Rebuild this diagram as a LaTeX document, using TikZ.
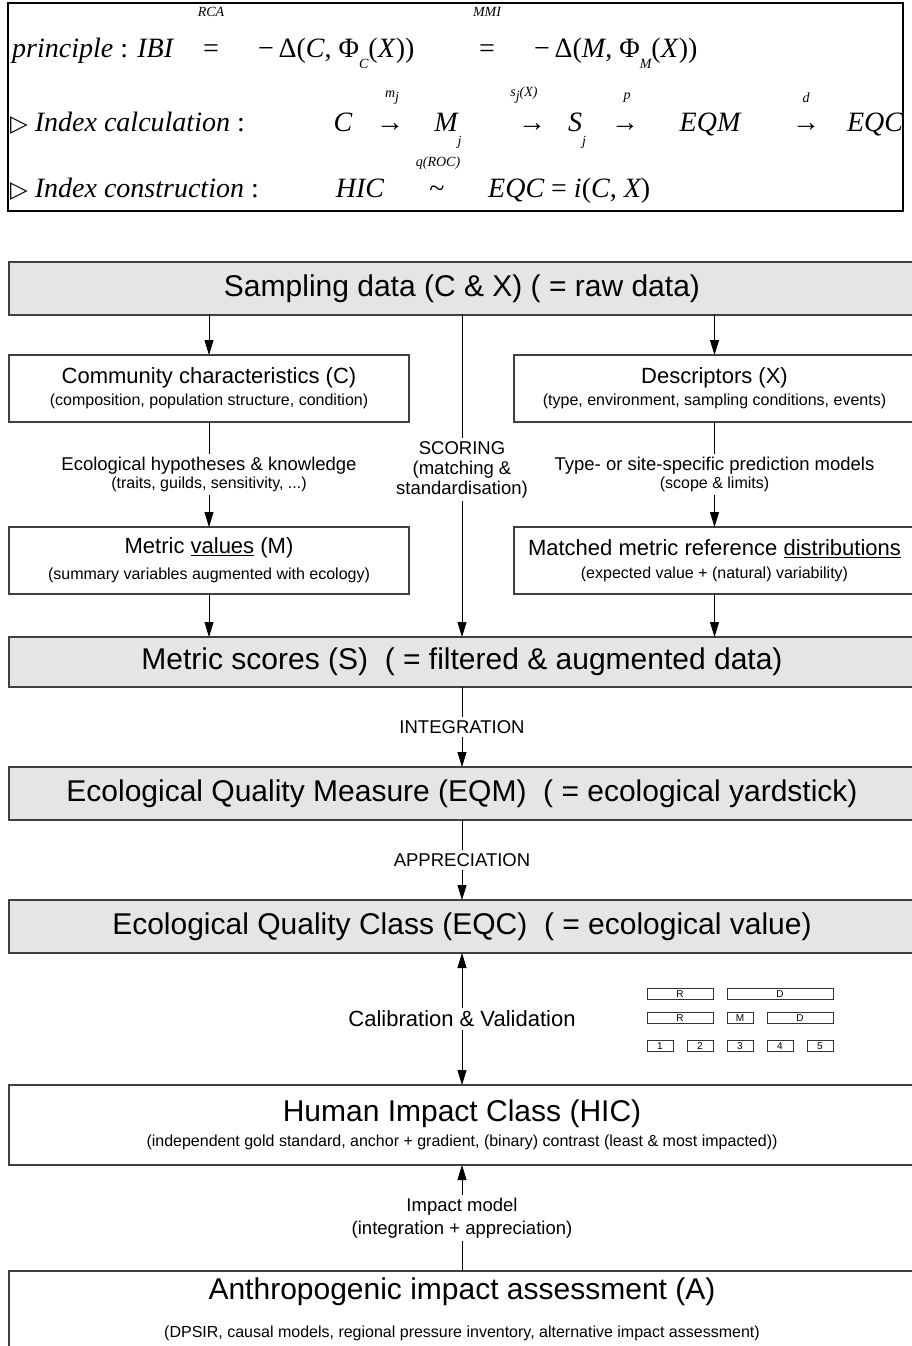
\documentclass[tikz,border=0pt]{standalone}
\usepackage{fontspec}
\setmainfont{Liberation Sans}
\newfontfamily\formfont{Liberation Serif}
\newfontfamily\symfont{DejaVu Sans}
\usepackage{tikz}
\usetikzlibrary{arrows.meta,positioning}

% font sizes (1pt = 1px of the sketch)
\newcommand{\bigtxt}{\fontsize{30}{36}\selectfont}
\newcommand{\midtxt}{\fontsize{22}{26}\selectfont}
\newcommand{\lbltxt}{\fontsize{18.5}{20}\selectfont}
\newcommand{\smalltxt}{\fontsize{16}{19}\selectfont}
\newcommand{\fml}{\formfont\fontsize{28}{32}\selectfont}
\newcommand{\fsup}{\formfont\itshape\fontsize{14}{15}\selectfont}
\newcommand{\fsub}{\formfont\itshape\fontsize{14}{15}\selectfont}
\newcommand{\tri}{{\symfont\fontsize{23}{23}\selectfont ▷}}

\begin{document}
\begin{tikzpicture}[x=1pt, y=-1pt,
  graybox/.style={draw=black!75, line width=1.3pt, fill=black!10, inner sep=0pt, outer sep=0pt, align=center},
  whitebox/.style={draw=black!75, line width=1.3pt, fill=white, inner sep=0pt, outer sep=0pt, align=center},
  lbl/.style={fill=white, inner sep=3pt, align=center},
  arr/.style={-{Triangle[length=15pt,width=9pt]}, line width=0.8pt},
  darr/.style={{Triangle[length=15pt,width=9pt]}-{Triangle[length=15pt,width=9pt]}, line width=0.8pt},
  sbox/.style={draw=black!80, line width=0.8pt, inner sep=0pt, minimum height=11pt, font=\fontsize{10}{10}\selectfont},
  ftxt/.style={inner sep=0pt, anchor=base, font=\fml},
  fsupx/.style={inner sep=0pt, font=\fsup}]
\useasboundingbox (0,0) rectangle (911,1346);

% formula frame
\node[draw, line width=1.4pt, minimum width=895pt, minimum height=208pt, inner sep=0pt, outer sep=0pt] (frame) at (455.5,107) {};
% principle
\node[ftxt, anchor=base west] (prin) at (12,58) {\itshape principle\upshape{} : \itshape IBI};
\node[ftxt] (eqa) at (211,58) {=};
\node[fsupx] (rca) at (211,12) {RCA};
\node[ftxt, anchor=base west] (delc) at (258,58) {−\,Δ(\textit{C}, Φ\raisebox{-11pt}{\fsub C}(\textit{X}))};
\node[ftxt] (eqb) at (487,58) {=};
\node[fsupx] (mmi) at (487,12) {MMI};
\node[ftxt, anchor=base west] (delm) at (534,58) {−\,Δ(\textit{M}, Φ\raisebox{-11pt}{\fsub M}(\textit{X}))};
% index calculation
\node[ftxt, anchor=base west] (calc) at (10,131) {\tri\ \itshape Index calculation\upshape{} :};
\node[ftxt] (cc) at (343,131) {\itshape C};
\node[ftxt] (ar1) at (390,131) {→};
\node[fsupx] (mj) at (392,98) {m\raisebox{-4pt}{j}};
\node[ftxt] (mm) at (448,131) {\itshape M\raisebox{-14pt}{\fsub j}};
\node[ftxt] (ar2) at (532,131) {→};
\node[fsupx] (sj) at (524,95) {s\raisebox{-4pt}{j}(X)};
\node[ftxt] (ss) at (577,131) {\itshape S\raisebox{-14pt}{\fsub j}};
\node[ftxt] (ar3) at (625,131) {→};
\node[fsupx] (pp) at (627,98) {p};
\node[ftxt] (eqm1) at (710,131) {\itshape EQM};
\node[ftxt] (ar4) at (806,131) {→};
\node[fsupx] (dd) at (806,98) {d};
\node[ftxt] (eqc1) at (875,131) {\itshape EQC};
% index construction
\node[ftxt, anchor=base west] (cons) at (10,197) {\tri\ \itshape Index construction\upshape{} :};
\node[ftxt] (hic1) at (360,197) {\itshape HIC};
\node[ftxt] (tld) at (437,197) {\textasciitilde};
\node[fsupx] (qroc) at (438,163) {q(ROC)};
\node[ftxt, anchor=base west] (eqci) at (488,197) {\itshape EQC\upshape{} = \itshape i\upshape(\itshape C\upshape, \itshape X\upshape)};

% boxes
\node[graybox, minimum width=906pt, minimum height=53pt] (samp) at (462,288.5) {\bigtxt Sampling data (C \& X) ( = raw data)};
\node[whitebox, minimum width=400pt, minimum height=67pt] (comm) at (209,388.5)
  {\midtxt Community characteristics (C)\\[5pt]\smalltxt (composition, population structure, condition)};
\node[whitebox, minimum width=401pt, minimum height=67pt] (desc) at (714.5,388.5)
  {\midtxt Descriptors (X)\\[5pt]\smalltxt (type, environment, sampling conditions, events)};
\node[whitebox, minimum width=400pt, minimum height=67pt] (mval) at (209,560.5)
  {\midtxt Metric \underline{values} (M)\\[9pt]\smalltxt (summary variables augmented with ecology)};
\node[whitebox, minimum width=401pt, minimum height=67pt] (match) at (714.5,560.5)
  {\midtxt Matched metric reference \underline{distributions}\\[8pt]\smalltxt (expected value + (natural) variability)};
\node[graybox, minimum width=906pt, minimum height=50pt] (scores) at (462,662) {\bigtxt Metric scores (S)\ \ ( = filtered \& augmented data)};
\node[graybox, minimum width=906pt, minimum height=53pt] (eqm) at (462,793.5) {\bigtxt Ecological Quality Measure (EQM)\ \ ( = ecological yardstick)};
\node[graybox, minimum width=906pt, minimum height=53pt] (eqc) at (462,926.5) {\bigtxt Ecological Quality Class (EQC)\ \ ( = ecological value)};
\node[whitebox, minimum width=906pt, minimum height=80pt] (hic) at (462,1125)
  {\bigtxt Human Impact Class (HIC)\\[6pt]\smalltxt (independent gold standard, anchor + gradient, (binary) contrast (least \& most impacted))};
\node[whitebox, minimum width=906pt, minimum height=89pt] (anth) at (462,1315.5) {};
\node[inner sep=0pt, font=\bigtxt] (antht) at (462,1292) {Anthropogenic impact assessment (A)};
\node[inner sep=0pt, font=\smalltxt] (anths) at (462,1333) {(DPSIR, causal models, regional pressure inventory, alternative impact assessment)};

% class bars
\foreach \nm/\cx/\cy/\w/\lab in {r1/680/994/66/R, d1/780/994/106/D, r2/680/1018/66/R, m2/740/1018/26/M, d2/800/1018/66/D,
  c1/660/1046/26/1, c2/700/1046/26/2, c3/740/1046/26/3, c4/780/1046/26/4, c5/820/1046/26/5}{
  \node[sbox, minimum width=\w pt] (\nm) at (\cx,\cy) {\lab};
}

% connectors
\draw[arr] (comm.north |- samp.south) -- (comm.north);
\draw[arr] (desc.north |- samp.south) -- (desc.north);
\draw[arr] (samp) -- node[lbl, pos=0.48, font=\lbltxt] {SCORING\\(matching \&\\standardisation)} (scores);
\draw[arr] (comm) -- node[lbl] {\lbltxt Ecological hypotheses \& knowledge\\[2pt]\smalltxt (traits, guilds, sensitivity, ...)} (mval);
\draw[arr] (desc) -- node[lbl] {\lbltxt Type- or site-specific prediction models\\[2pt]\smalltxt (scope \& limits)} (match);
\draw[arr] (mval.south) -- (mval.south |- scores.north);
\draw[arr] (match.south) -- (match.south |- scores.north);
\draw[arr] (scores) -- node[lbl, font=\lbltxt] {INTEGRATION} (eqm);
\draw[arr] (eqm) -- node[lbl, font=\lbltxt] {APPRECIATION} (eqc);
\draw[darr] (eqc) -- node[lbl, font=\midtxt] {Calibration \& Validation} (hic);
\draw[arr] (anth) -- node[lbl, font=\lbltxt] {Impact model\\[3pt](integration + appreciation)} (hic);
\end{tikzpicture}
\end{document}
